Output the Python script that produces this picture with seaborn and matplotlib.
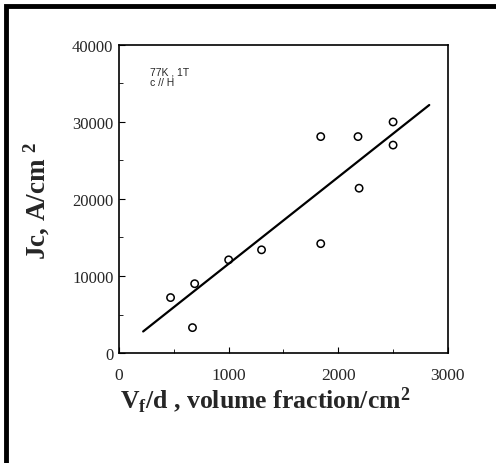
import matplotlib
matplotlib.use("Agg")
import matplotlib.pyplot as plt
import seaborn as sns
import pandas as pd
from matplotlib.patches import Rectangle

# data
vf_d = [470, 690, 670, 1000, 1300, 1840, 1840, 2180, 2190, 2500, 2500]
jc = [7200, 9000, 3300, 12100, 13400, 14200, 28100, 28100, 21400, 30000, 27000]
fit_x = [220, 2830]
fit_y = [2800, 32200]
x_ticks = [0, 1000, 2000, 3000]
y_ticks = [0, 10000, 20000, 30000, 40000]

df = pd.DataFrame({'VFD': vf_d, 'JC': jc})
fit = pd.DataFrame({'VFD': fit_x, 'JC': fit_y})

sns.set_style("ticks")
plt.rcParams['font.family'] = ['Liberation Serif', 'DejaVu Serif']
plt.rcParams['mathtext.fontset'] = 'custom'
plt.rcParams['mathtext.rm'] = 'Liberation Serif:bold'
plt.rcParams['mathtext.it'] = 'Liberation Serif:bold'
plt.rcParams['mathtext.bf'] = 'Liberation Serif:bold'

fig = plt.figure(figsize=(4.96, 4.64), dpi=100)
ax = fig.add_axes([0.240, 0.237, 0.663, 0.664])

sns.lineplot(data=fit, x='VFD', y='JC', color='black', linewidth=1.6, ax=ax)
sns.scatterplot(data=df, x='VFD', y='JC', marker='o', s=28,
                facecolor='none', edgecolor='black', linewidth=1.1, ax=ax)

ax.set_xlim(0, 3000)
ax.set_ylim(0, 40000)
ax.set_xticks(x_ticks)
ax.set_yticks(y_ticks)
ax.set_xticks([500, 1500, 2500], minor=True)
ax.set_yticks([5000, 15000, 25000, 35000], minor=True)
ax.tick_params(which='both', direction='in', top=False, right=False, color='black')
ax.tick_params(axis='x', which='major', labelsize=12.5, pad=10, length=4)
ax.tick_params(axis='y', which='major', labelsize=12, pad=4, length=4)
ax.tick_params(which='minor', length=3)
for s in ax.spines.values():
    s.set_color('black')
    s.set_linewidth(1.2)

ax.set_xlabel('')
ax.set_ylabel('')
fig.text(0.534, 0.138, r'V$_{\mathrm{f}}$/d , volume fraction/cm$^{\mathrm{2}}$',
         ha='center', va='center', fontsize=18.5, fontweight='bold')
fig.text(0.075, 0.567, r'Jc, A/cm $^{\mathrm{2}}$', ha='center', va='center', rotation=90,
         fontsize=19.5, fontweight='bold')
ax.text(283, 37200, '77K , 1T\nc // H', ha='left', va='top', fontsize=7.5,
        family='Liberation Sans', linespacing=1.0)

fig.patches.append(Rectangle((0.012, -0.05), 1.05, 1.035, transform=fig.transFigure,
                             fill=False, edgecolor='black', linewidth=3.5))

fig.savefig('out.png', dpi=100)
